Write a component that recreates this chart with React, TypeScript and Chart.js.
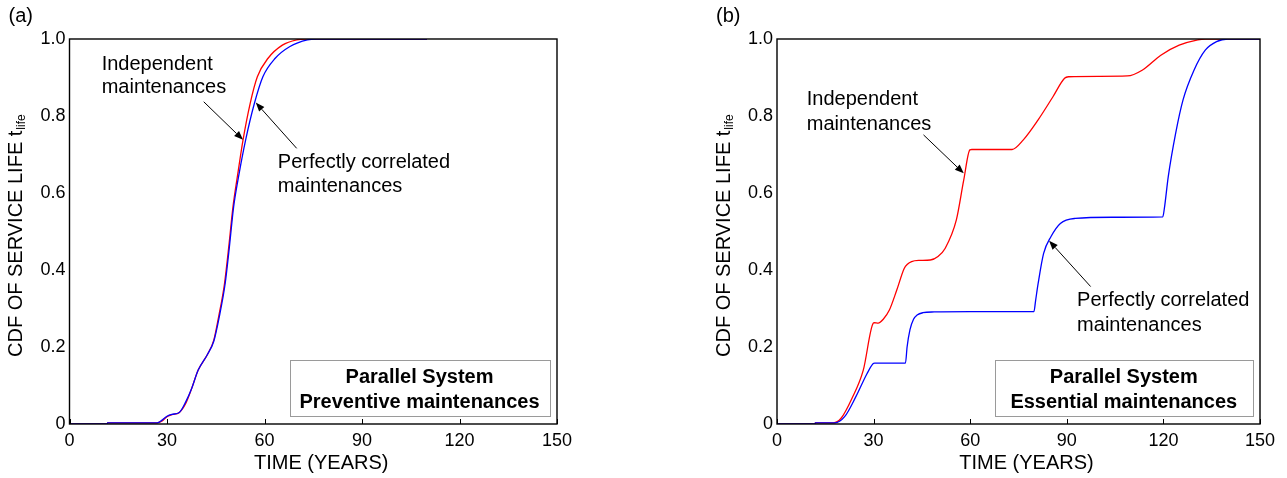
import React, { useEffect, useRef } from "react";
import { Chart, registerables } from "chart.js";

Chart.register(...registerables);

// ---------- shared axis data ----------
const X_TICKS = [0, 30, 60, 90, 120, 150];
const Y_TICKS = [0, 0.2, 0.4, 0.6, 0.8, 1.0];
const X_TITLE = "TIME (YEARS)";
const Y_TITLE = "CDF OF SERVICE LIFE t";
const Y_TITLE_SUB = "life";
const IND_LABEL = ["Independent", "maintenances"];
const COR_LABEL = ["Perfectly correlated", "maintenances"];

// ---------- panel (a): preventive maintenances ----------
const A_IND_T = [0, 11.6, 11.7, 27, 28.5, 30, 31.5, 33.8, 35.8, 37.5, 39.6, 42.4, 44.4, 45.9, 47.7, 49.0, 50.3, 51.8, 53.4, 55.6, 57.8, 61.1, 65.5, 69.9, 73, 110];
const A_IND_P = [0, 0, 0.003, 0.003, 0.008, 0.019, 0.024, 0.03, 0.054, 0.09, 0.14, 0.18, 0.218, 0.279, 0.365, 0.46, 0.564, 0.651, 0.738, 0.833, 0.902, 0.95, 0.984, 0.998, 1.0, 1.0];
const A_COR_T = [0, 11.6, 11.7, 27, 28.5, 30, 31.5, 33.8, 35.8, 37.5, 39.6, 42.4, 44.4, 46.1, 47.9, 49.2, 50.5, 52.2, 54.2, 56.9, 59.5, 63.3, 67.7, 73.2, 76, 110];
const A_COR_P = [0, 0, 0.003, 0.003, 0.01, 0.02, 0.025, 0.03, 0.058, 0.09, 0.14, 0.18, 0.215, 0.279, 0.365, 0.46, 0.564, 0.651, 0.738, 0.833, 0.902, 0.95, 0.98, 0.998, 1.0, 1.0];
const A_TAG = "(a)";
const A_LEGEND = ["Parallel System", "Preventive maintenances"];

// ---------- panel (b): essential maintenances ----------
const B_IND_T = [0, 11.8, 11.9, 17.5, 19.9, 23.3, 26.8, 29.9, 30.2, 31.4, 33, 34.9, 37.2, 39.5, 40.5, 41.8, 44, 47.6, 50, 52.2, 55.7, 58.0, 59.9, 60.5, 66, 73, 76.5, 81.1, 85.7, 89.3, 90.5, 100, 108.8, 113.4, 119.2, 124.9, 130.7, 133, 150];
const B_IND_P = [0, 0, 0.003, 0.003, 0.015, 0.067, 0.14, 0.262, 0.263, 0.262, 0.272, 0.296, 0.348, 0.404, 0.415, 0.422, 0.425, 0.426, 0.435, 0.456, 0.53, 0.634, 0.712, 0.713, 0.713, 0.713, 0.738, 0.79, 0.85, 0.898, 0.902, 0.903, 0.904, 0.919, 0.958, 0.984, 0.998, 1.0, 1.0];
const B_COR_T = [0, 11.8, 11.9, 18, 21, 24.5, 27.9, 29.9, 30.3, 35, 39.9, 40.4, 41.3, 42.4, 43.5, 45.3, 48.8, 60, 79.8, 80.3, 81.1, 82.8, 85.1, 88.0, 92.6, 104, 119.8, 120.3, 121.5, 123.8, 126.1, 129.5, 133, 136.5, 140, 150];
const B_COR_P = [0, 0, 0.003, 0.003, 0.019, 0.071, 0.13, 0.157, 0.158, 0.158, 0.158, 0.2, 0.245, 0.272, 0.283, 0.289, 0.291, 0.292, 0.292, 0.32, 0.365, 0.443, 0.487, 0.521, 0.534, 0.537, 0.538, 0.56, 0.642, 0.755, 0.842, 0.919, 0.971, 0.993, 1.0, 1.0];
const B_TAG = "(b)";
const B_LEGEND = ["Parallel System", "Essential maintenances"];

const FONT = "'Liberation Sans', Arial, Helvetica, sans-serif";

type Decor = {
  tag: string;
  legend: string[];
  indText: [number, number, number]; // t, v line1, v line2
  indArrow: [number, number, number, number];
  corText: [number, number, number];
  corArrow: [number, number, number, number];
};

const A_DECOR: Decor = {
  tag: A_TAG,
  legend: A_LEGEND,
  indText: [9.9, 0.935, 0.873],
  indArrow: [41.3, 0.837, 53.4, 0.738],
  corText: [64.1, 0.678, 0.616],
  corArrow: [69.9, 0.716, 57.3, 0.835],
};
const B_DECOR: Decor = {
  tag: B_TAG,
  legend: B_LEGEND,
  indText: [9.25, 0.842, 0.779],
  indArrow: [45.5, 0.751, 58.0, 0.651],
  corText: [93.2, 0.322, 0.257],
  corArrow: [97.4, 0.357, 84.5, 0.476],
};

function arrow(ctx: CanvasRenderingContext2D, x1: number, y1: number, x2: number, y2: number) {
  const ang = Math.atan2(y2 - y1, x2 - x1);
  const len = 9;
  const hw = 3.5;
  const bx = x2 - len * Math.cos(ang);
  const by = y2 - len * Math.sin(ang);
  ctx.beginPath();
  ctx.moveTo(x1, y1);
  ctx.lineTo(bx, by);
  ctx.strokeStyle = "#000";
  ctx.lineWidth = 1;
  ctx.stroke();
  ctx.beginPath();
  ctx.moveTo(x2, y2);
  ctx.lineTo(bx + hw * Math.sin(ang), by - hw * Math.cos(ang));
  ctx.lineTo(bx - hw * Math.sin(ang), by + hw * Math.cos(ang));
  ctx.closePath();
  ctx.fillStyle = "#000";
  ctx.fill();
}

const decorPlugin = {
  id: "decor",
  afterDraw(chart: any, _args: any, o: any) {
    const d: Decor = o.d;
    if (!d) return;
    const ctx: CanvasRenderingContext2D = chart.ctx;
    const xs = chart.scales.x;
    const ys = chart.scales.y;
    const X = (t: number) => xs.getPixelForValue(t);
    const Y = (v: number) => ys.getPixelForValue(v);
    const { left, right, top, bottom } = chart.chartArea;
    ctx.save();

    // frame
    ctx.strokeStyle = "#000";
    ctx.lineWidth = 1.4;
    ctx.strokeRect(left, top, right - left, bottom - top);

    // inward ticks on bottom axis
    ctx.lineWidth = 1;
    X_TICKS.forEach((t) => {
      const x = Math.round(X(t)) + 0.5;
      ctx.beginPath();
      ctx.moveTo(x, bottom);
      ctx.lineTo(x, bottom - 5);
      ctx.stroke();
    });

    // panel tag
    ctx.fillStyle = "#000";
    ctx.font = `20px ${FONT}`;
    ctx.textAlign = "left";
    ctx.textBaseline = "middle";
    ctx.fillText(d.tag, left - 61, 16);

    // x title
    ctx.textAlign = "center";
    ctx.fillText(X_TITLE, (left + right) / 2 + 8, 463);

    // y title with subscript
    ctx.save();
    ctx.translate(left - 47.5, 357);
    ctx.rotate(-Math.PI / 2);
    ctx.textAlign = "left";
    ctx.textBaseline = "alphabetic";
    ctx.font = `20px ${FONT}`;
    ctx.fillText(Y_TITLE, 0, 0);
    const w = ctx.measureText(Y_TITLE).width;
    ctx.font = `12px ${FONT}`;
    ctx.fillText(Y_TITLE_SUB, w + 1, 3);
    ctx.restore();

    // annotations
    ctx.font = `20px ${FONT}`;
    ctx.textAlign = "left";
    ctx.textBaseline = "middle";
    ctx.fillText(IND_LABEL[0], X(d.indText[0]), Y(d.indText[1]));
    ctx.fillText(IND_LABEL[1], X(d.indText[0]), Y(d.indText[2]));
    ctx.fillText(COR_LABEL[0], X(d.corText[0]), Y(d.corText[1]));
    ctx.fillText(COR_LABEL[1], X(d.corText[0]), Y(d.corText[2]));
    arrow(ctx, X(d.indArrow[0]), Y(d.indArrow[1]), X(d.indArrow[2]), Y(d.indArrow[3]));
    arrow(ctx, X(d.corArrow[0]), Y(d.corArrow[1]), X(d.corArrow[2]), Y(d.corArrow[3]));

    // legend box
    const bx1 = Math.round(X(67.7)) + 0.5;
    const bx2 = Math.round(X(147.7)) + 0.5;
    const by1 = Math.round(Y(0.166)) + 0.5;
    const by2 = Math.round(Y(0.022)) + 0.5;
    ctx.fillStyle = "#fff";
    ctx.fillRect(bx1, by1, bx2 - bx1, by2 - by1);
    ctx.strokeStyle = "#9a9a9a";
    ctx.lineWidth = 1;
    ctx.strokeRect(bx1, by1, bx2 - bx1, by2 - by1);
    ctx.fillStyle = "#000";
    ctx.font = `bold 20px ${FONT}`;
    ctx.textAlign = "center";
    ctx.fillText(d.legend[0], X(107.7), Y(0.122));
    ctx.fillText(d.legend[1], X(107.7), Y(0.057));

    ctx.restore();
  },
};

function makeConfig(indT: number[], indP: number[], corT: number[], corP: number[], d: Decor, yWidth: number, padRight: number) {
  return {
    type: "line" as const,
    data: {
      datasets: [
        {
          data: corT.map((t, i) => ({ x: t, y: corP[i] })),
          borderColor: "#0000ff",
          borderWidth: 1.3,
          pointRadius: 0,
          cubicInterpolationMode: "monotone" as const,
          fill: false,
        },
        {
          data: indT.map((t, i) => ({ x: t, y: indP[i] })),
          borderColor: "#ff0000",
          borderWidth: 1.3,
          pointRadius: 0,
          cubicInterpolationMode: "monotone" as const,
          fill: false,
        },
      ],
    },
    options: {
      animation: false as const,
      responsive: false,
      maintainAspectRatio: false,
      events: [],
      layout: { padding: { left: 0, right: padRight, top: 39, bottom: 0 } },
      plugins: {
        legend: { display: false },
        tooltip: { enabled: false },
        decor: { d },
      },
      scales: {
        x: {
          type: "linear" as const,
          min: 0,
          max: 150,
          afterBuildTicks: (s: any) => {
            s.ticks = X_TICKS.map((v) => ({ value: v }));
          },
          grid: { display: false, drawTicks: false },
          border: { display: false },
          ticks: {
            padding: 6,
            color: "#000",
            maxRotation: 0,
            autoSkip: false,
            font: { family: FONT, size: 18 },
            callback: (v: any) => String(v),
          },
          afterFit: (s: any) => {
            s.height = 54;
          },
        },
        y: {
          type: "linear" as const,
          min: 0,
          max: 1,
          afterBuildTicks: (s: any) => {
            s.ticks = Y_TICKS.map((v) => ({ value: v }));
          },
          grid: { display: false, drawTicks: false },
          border: { display: false },
          ticks: {
            padding: 4,
            color: "#000",
            autoSkip: false,
            font: { family: FONT, size: 18 },
            callback: (v: any) => (Number(v) === 0 ? "0" : Number(v).toFixed(1)),
          },
          afterFit: (s: any) => {
            s.width = yWidth;
          },
        },
      },
    },
    plugins: [decorPlugin],
  };
}

function Panel(props: { cfg: any; left: number; width: number }) {
  const ref = useRef<HTMLCanvasElement | null>(null);
  useEffect(() => {
    if (!ref.current) return;
    const chart = new Chart(ref.current, props.cfg);
    return () => chart.destroy();
  }, []);
  return (
    <canvas
      ref={ref}
      width={props.width}
      height={478}
      style={{ position: "absolute", left: props.left, top: 0, width: props.width, height: 478, display: "block" }}
    />
  );
}

export default function App() {
  const cfgA = makeConfig(A_IND_T, A_IND_P, A_COR_T, A_COR_P, A_DECOR, 69.5, 640 - 557);
  const cfgB = makeConfig(B_IND_T, B_IND_P, B_COR_T, B_COR_P, B_DECOR, 87, 27);
  return (
    <div style={{ position: "absolute", left: 0, top: 0, width: 1287, height: 478, background: "#fff", overflow: "hidden" }}>
      <Panel cfg={cfgA} left={0} width={640} />
      <Panel cfg={cfgB} left={690} width={597} />
    </div>
  );
}
